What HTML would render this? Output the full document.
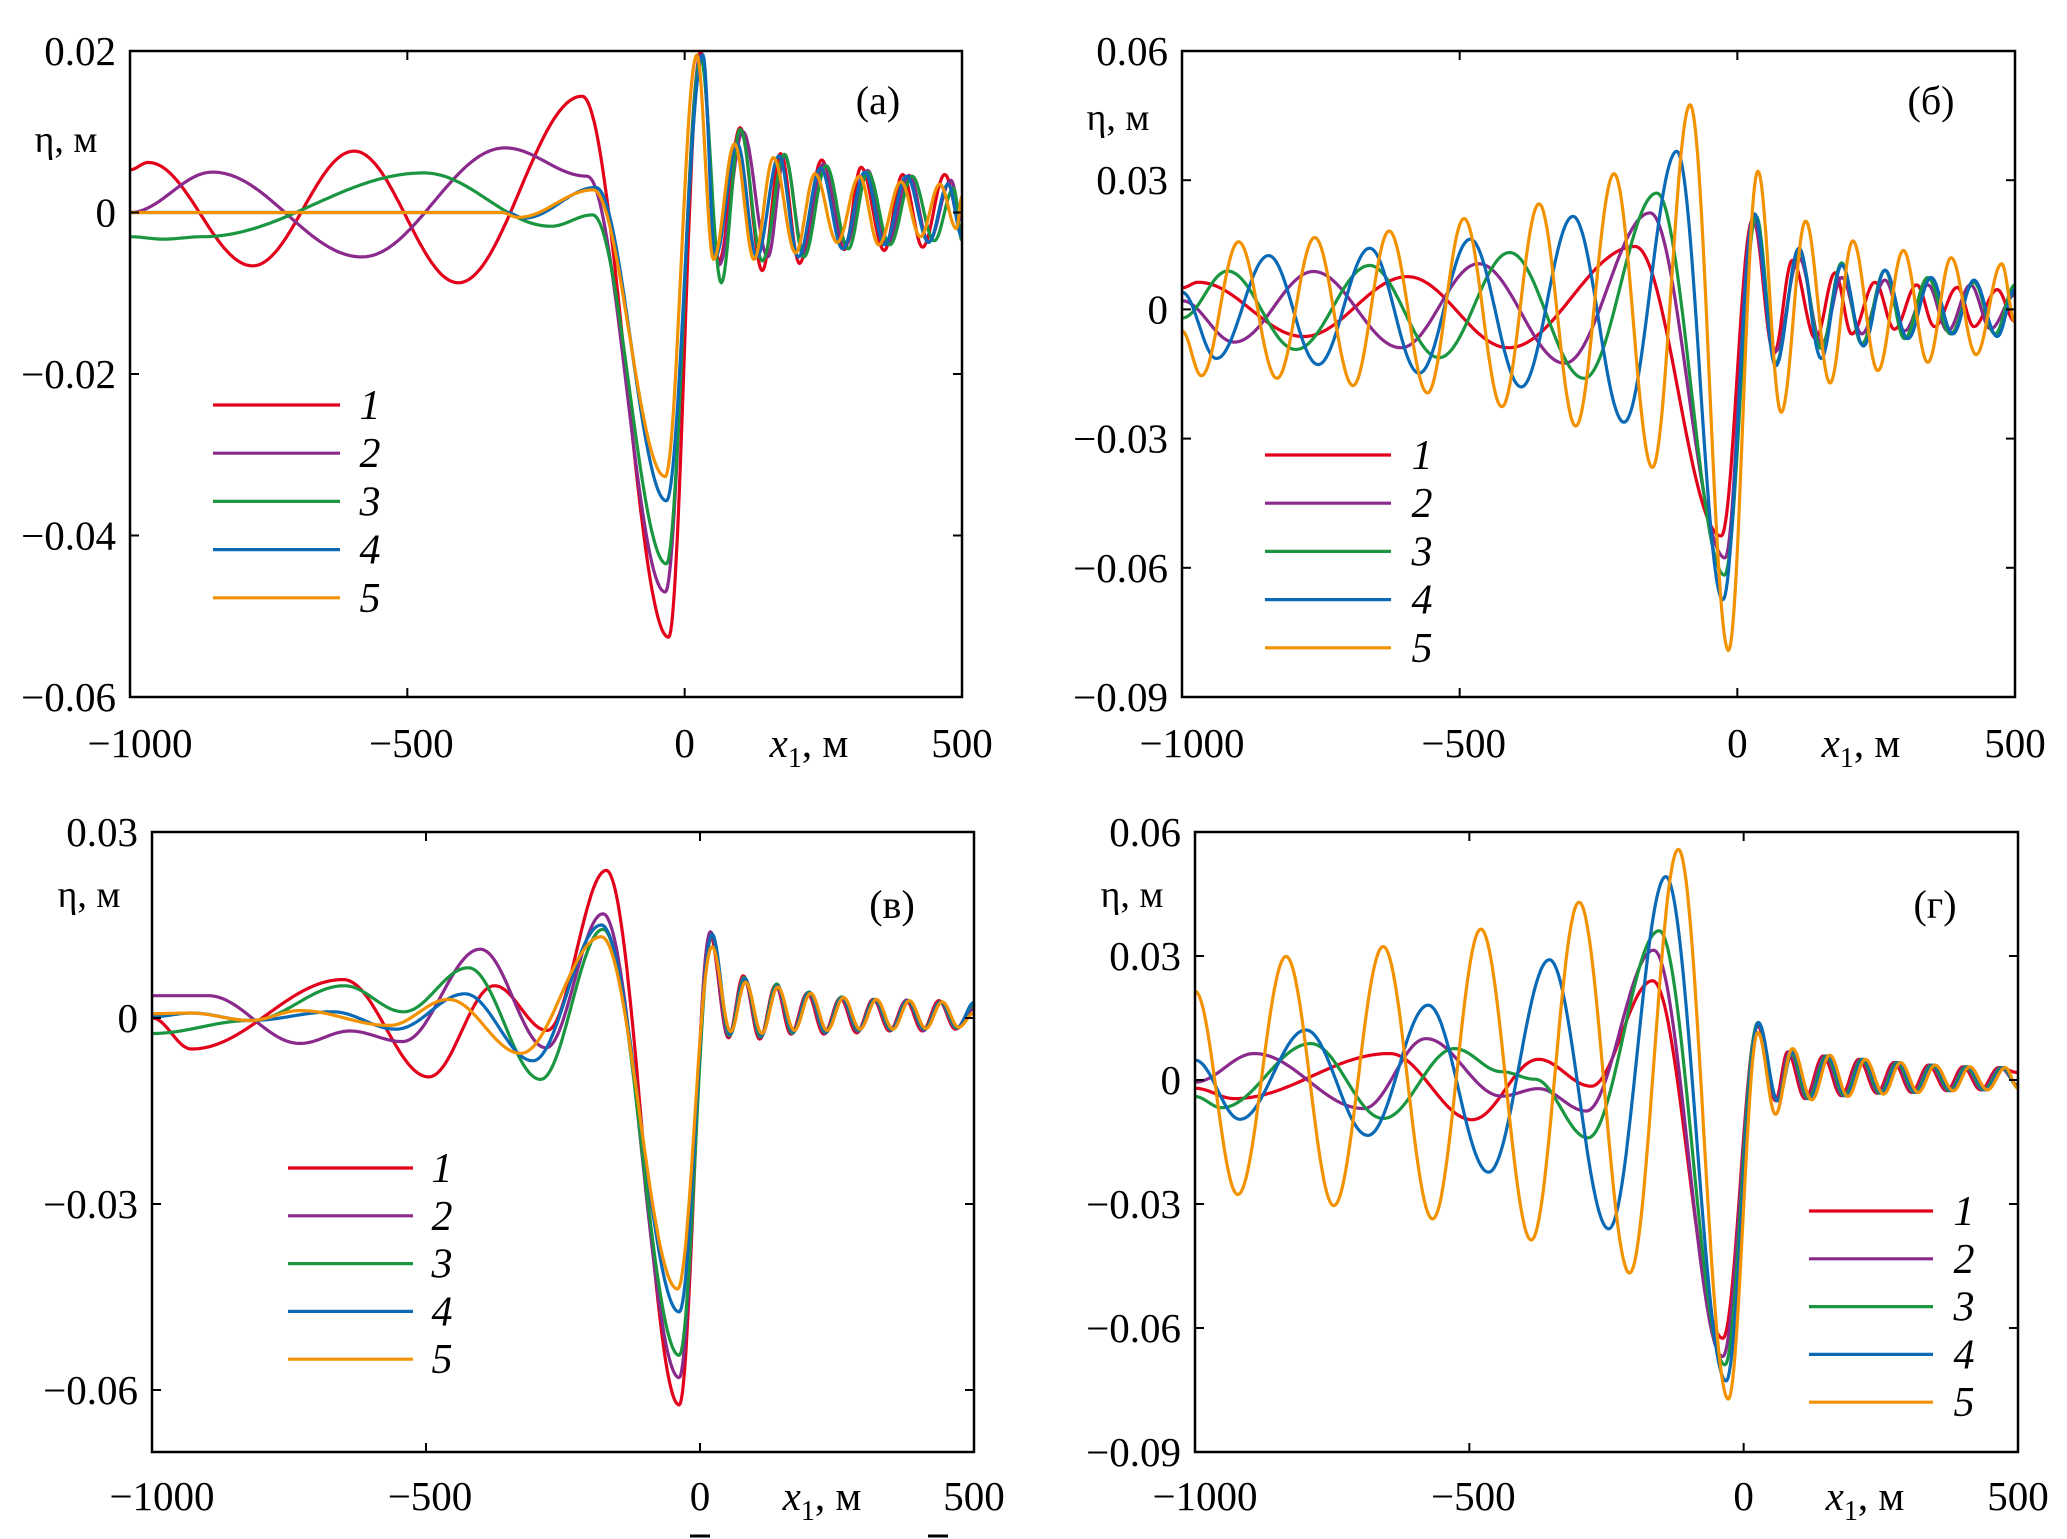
<!DOCTYPE html>
<html><head><meta charset="utf-8">
<style>
html,body{margin:0;padding:0;background:#fff;}
svg{display:block;}
text{font-family:"Liberation Serif","DejaVu Serif",serif;fill:#000;}
</style></head>
<body>
<svg id="fig" width="2067" height="1539" viewBox="0 0 2067 1539" xmlns="http://www.w3.org/2000/svg"></svg>
<script>
// ---- data (x in m, eta in m) ----
const seriesNames = ['1','2','3','4','5'];
const seriesColors = ['#e3001b','#8a2a8c','#1a9641','#0a6ab6','#f39200'];
const xTicks = [-1000,-500,0,500];
const xTickLabels = ['\u22121000','\u2212500','0','500'];

// panel a
const aYTicks = [0.02,0,-0.02,-0.04,-0.06];
const aYTickLabels = ['0.02','0','\u22120.02','\u22120.04','\u22120.06'];
const a1 = [[-1000,0.0053],[-967,0.0062],[-779,-0.0066],[-596,0.0076],[-408,-0.0087],[-185,0.0144],[-29,-0.0526],[29,0.0199],[62,-0.006],[100,0.0105],[140,-0.0072],[173,0.0073],[207,-0.0063],[247,0.0065],[288,-0.0046],[318,0.0056],[360,-0.0047],[393,0.0047],[429,-0.0043],[469,0.0047],[500,-0.002]];
const a2 = [[-1000,0],[-851,0.005],[-582,-0.0055],[-324,0.008],[-176,0.0045],[-35,-0.047],[29,0.0195],[62,-0.0065],[105,0.010],[150,-0.0055],[180,0.007],[215,-0.005],[250,0.006],[290,-0.004],[330,0.0052],[365,-0.004],[405,0.0046],[440,-0.0036],[480,0.004],[500,-0.001]];
const a3 = [[-1000,-0.003],[-940,-0.0033],[-870,-0.003],[-470,0.0049],[-241,-0.0017],[-166,-0.0003],[-33,-0.0435],[29,0.019],[66,-0.0087],[100,0.0103],[140,-0.006],[180,0.0072],[215,-0.0055],[255,0.0058],[295,-0.0045],[330,0.005],[370,-0.004],[410,0.0045],[450,-0.0035],[485,0.003],[500,-0.0035]];
const a4 = [[-1000,0],[-320,0],[-290,-0.0007],[-160,0.0031],[-33,-0.0357],[33,0.0195],[55,-0.0055],[95,0.0085],[130,-0.0055],[170,0.007],[205,-0.0055],[245,0.0055],[285,-0.0045],[325,0.005],[360,-0.004],[400,0.0045],[440,-0.0037],[475,0.0035],[500,-0.003]];
const a5 = [[-1000,0],[-330,0],[-300,-0.0006],[-165,0.0028],[-35,-0.0327],[22,0.0195],[52,-0.0058],[90,0.0085],[125,-0.0058],[160,0.0068],[200,-0.005],[235,0.0048],[275,-0.0037],[315,0.0045],[350,-0.004],[390,0.0038],[425,-0.003],[460,0.0035],[490,-0.002],[500,0.002]];

// panel б
const bYTicks = [0.06,0.03,0,-0.03,-0.06,-0.09];
const bYTickLabels = ['0.06','0.03','0','\u22120.03','\u22120.06','\u22120.09'];
const b1 = [[-1000,0.005],[-971,0.0063],[-781,-0.0063],[-594,0.0076],[-412,-0.0089],[-184,0.0146],[-29,-0.0526],[28,0.021],[66,-0.0102],[99,0.0114],[141,-0.0068],[176,0.0085],[206,-0.0057],[248,0.0063],[283,-0.0046],[323,0.0057],[355,-0.004],[396,0.0051],[426,-0.004],[468,0.0046],[500,-0.0028]];
const b2 = [[-1000,0.002],[-906,-0.0076],[-763,0.0088],[-606,-0.0089],[-466,0.0106],[-311,-0.0125],[-157,0.0224],[-22,-0.0577],[28,0.021],[69,-0.0097],[111,0.012],[152,-0.008],[188,0.0074],[224,-0.0057],[266,0.0068],[301,-0.005],[343,0.0057],[379,-0.005],[420,0.0057],[456,-0.0045],[500,0.0034]];
const b3 = [[-1000,-0.002],[-918,0.0089],[-795,-0.0093],[-662,0.0102],[-537,-0.0112],[-410,0.0132],[-276,-0.016],[-145,0.027],[-23,-0.0617],[34,0.0216],[69,-0.0125],[111,0.0137],[151,-0.0091],[188,0.0108],[224,-0.008],[266,0.0091],[301,-0.0068],[343,0.0074],[384,-0.0057],[426,0.0063],[464,-0.0057],[500,0.0057]];
const b4 = [[-1000,0.004],[-938,-0.0114],[-844,0.0125],[-755,-0.0128],[-662,0.0142],[-573,-0.0148],[-481,0.0163],[-389,-0.018],[-296,0.0216],[-204,-0.0262],[-109,0.0367],[-26,-0.0674],[31,0.0222],[69,-0.0131],[111,0.0142],[151,-0.0114],[188,0.0103],[227,-0.0085],[266,0.0091],[307,-0.0068],[349,0.0074],[388,-0.0057],[426,0.0068],[468,-0.0063],[500,0.0046]];
const b5 = [[-1000,-0.005],[-965,-0.0154],[-898,0.0157],[-829,-0.016],[-761,0.0167],[-692,-0.0177],[-627,0.0182],[-558,-0.0194],[-492,0.0211],[-424,-0.0226],[-357,0.0245],[-291,-0.0271],[-222,0.0315],[-153,-0.0367],[-85,0.0475],[-16,-0.0792],[37,0.0321],[79,-0.0239],[123,0.0205],[167,-0.0171],[208,0.0159],[253,-0.0142],[299,0.0137],[343,-0.0123],[385,0.012],[430,-0.0105],[476,0.0106],[500,-0.003]];

// panel в
const cYTicks = [0.03,0,-0.03,-0.06];
const cYTickLabels = ['0.03','0','\u22120.03','\u22120.06'];
const c1 = [[-1000,0],[-928,-0.005],[-651,0.0062],[-495,-0.0095],[-375,0.0052],[-279,-0.002],[-171,0.0238],[-38,-0.0624],[18,0.0135],[52,-0.0032],[79,0.0068],[109,-0.0034],[138,0.0053],[166,-0.0026],[196,0.004],[226,-0.0026],[256,0.0032],[286,-0.0024],[316,0.003],[346,-0.0021],[376,0.0028],[406,-0.0021],[436,0.0028],[466,-0.0018],[500,0.002]];
const c2 = [[-1000,0.0036],[-898,0.0036],[-730,-0.0041],[-639,-0.0021],[-543,-0.0038],[-401,0.0111],[-281,-0.0048],[-177,0.0168],[-38,-0.058],[19,0.0139],[52,-0.003],[80,0.0066],[110,-0.0032],[139,0.0052],[168,-0.0025],[197,0.0041],[228,-0.0025],[257,0.0033],[288,-0.0022],[317,0.003],[348,-0.002],[377,0.0029],[408,-0.002],[437,0.0026],[468,-0.0017],[500,0.0015]];
const c3 = [[-1000,-0.0025],[-820,-0.0004],[-649,0.0052],[-541,0.001],[-423,0.0081],[-291,-0.0099],[-177,0.0143],[-38,-0.0544],[22,0.0135],[54,-0.0028],[81,0.0065],[111,-0.003],[140,0.0055],[169,-0.0024],[199,0.0042],[229,-0.0023],[259,0.0034],[289,-0.002],[319,0.003],[349,-0.0019],[379,0.0028],[409,-0.0018],[439,0.0026],[469,-0.0016],[500,0.0022]];
const c4 = [[-1000,0.0002],[-928,0.0008],[-820,-0.0004],[-670,0.001],[-555,-0.0018],[-429,0.0039],[-305,-0.0069],[-180,0.015],[-38,-0.0474],[22,0.0135],[55,-0.0026],[82,0.0063],[112,-0.0028],[141,0.0052],[170,-0.0022],[200,0.0041],[230,-0.0022],[260,0.0033],[290,-0.0019],[320,0.003],[350,-0.0018],[380,0.0028],[410,-0.0018],[440,0.0026],[470,-0.0015],[500,0.0025]];
const c5 = [[-1000,0.0007],[-930,0.0008],[-820,-0.0004],[-730,0.0012],[-567,-0.0012],[-459,0.003],[-327,-0.0057],[-180,0.0131],[-41,-0.0437],[22,0.0115],[56,-0.0022],[83,0.0058],[113,-0.0025],[142,0.005],[172,-0.002],[202,0.004],[232,-0.002],[262,0.0033],[292,-0.0018],[322,0.003],[352,-0.0018],[382,0.0028],[412,-0.0017],[442,0.0026],[472,-0.0015],[500,0.0008]];

// panel г
const dYTicks = [0.06,0.03,0,-0.03,-0.06,-0.09];
const dYTickLabels = ['0.06','0.03','0','\u22120.03','\u22120.06','\u22120.09'];
const d1 = [[-1000,-0.002],[-928,-0.0045],[-645,0.0064],[-495,-0.0096],[-374,0.005],[-278,-0.0015],[-166,0.024],[-38,-0.0625],[26,0.0131],[58,-0.005],[80,0.0068],[112,-0.0045],[145,0.0058],[178,-0.0038],[210,0.005],[243,-0.0032],[274,0.0042],[306,-0.003],[337,0.0036],[370,-0.0026],[400,0.0032],[432,-0.0024],[465,0.003],[500,0.0018]];
const d2 = [[-1000,-0.0005],[-892,0.0064],[-693,-0.0069],[-579,0.010],[-441,-0.0039],[-374,-0.0021],[-287,-0.0075],[-164,0.0314],[-38,-0.0669],[26,0.0133],[60,-0.005],[83,0.0068],[115,-0.0045],[148,0.0058],[181,-0.0038],[213,0.005],[246,-0.0032],[277,0.0042],[309,-0.003],[340,0.0036],[373,-0.0026],[403,0.0032],[435,-0.0024],[468,0.003],[500,-0.0012]];
const d3 = [[-1000,-0.004],[-952,-0.0067],[-789,0.0088],[-657,-0.0093],[-527,0.0076],[-441,0.002],[-381,0.0002],[-284,-0.014],[-154,0.0361],[-34,-0.0689],[26,0.0139],[62,-0.005],[86,0.0068],[118,-0.0045],[151,0.0058],[184,-0.0038],[216,0.005],[249,-0.0032],[280,0.0042],[312,-0.003],[343,0.0036],[376,-0.0026],[406,0.0032],[438,-0.0024],[471,0.003],[500,-0.0015]];
const d4 = [[-1000,0.0048],[-918,-0.0095],[-798,0.0121],[-685,-0.0134],[-575,0.0181],[-465,-0.0223],[-354,0.0291],[-246,-0.036],[-142,0.0492],[-32,-0.0728],[27,0.0139],[62,-0.005],[89,0.0068],[121,-0.0045],[154,0.0058],[187,-0.0038],[219,0.005],[252,-0.0032],[283,0.0042],[315,-0.003],[346,0.0036],[379,-0.0026],[409,0.0032],[441,-0.0024],[474,0.003],[500,-0.0018]];
const d5 = [[-1000,0.0215],[-922,-0.0277],[-834,0.0299],[-747,-0.0304],[-657,0.0323],[-567,-0.0336],[-479,0.0365],[-387,-0.0387],[-300,0.043],[-208,-0.0467],[-119,0.0558],[-28,-0.0772],[26,0.0115],[58,-0.0083],[89,0.0076],[124,-0.0048],[157,0.006],[190,-0.004],[222,0.005],[255,-0.0034],[286,0.0042],[318,-0.003],[349,0.0036],[382,-0.0026],[412,0.0032],[444,-0.0024],[477,0.003],[500,-0.002]];

// ---- layout ----
const panels = [
 {id:'a', label:'(а)', box:[130,51,962,697], ymax:0.02, ymin:-0.06, yt:aYTicks, ytl:aYTickLabels, data:[a1,a2,a3,a4,a5],
  leg:[213,340,370,405,48.2], lab:[878,114], eta:[66,152], xl:[809,757], xtb:757},
 {id:'b', label:'(б)', box:[1182,51,2015,697], ymax:0.06, ymin:-0.09, yt:bYTicks, ytl:bYTickLabels, data:[b1,b2,b3,b4,b5],
  leg:[1265,1391,1422,455,48.2], lab:[1931,114], eta:[1118,130], xl:[1861,757], xtb:757},
 {id:'c', label:'(в)', box:[152,832,974,1452], ymax:0.03, ymin:-0.07, yt:cYTicks, ytl:cYTickLabels, data:[c1,c2,c3,c4,c5],
  leg:[288,413,442,1168,47.8], lab:[892,918], eta:[89,907], xl:[822,1510], xtb:1510},
 {id:'d', label:'(г)', box:[1195,832,2018,1452], ymax:0.06, ymin:-0.09, yt:dYTicks, ytl:dYTickLabels, data:[d1,d2,d3,d4,d5],
  leg:[1809,1933,1964,1211,47.8], lab:[1935,918], eta:[1132,907], xl:[1865,1510], xtb:1510}
];
const NS='http://www.w3.org/2000/svg';
const svg=document.getElementById('fig');
function mk(tag,attrs,parent){const e=document.createElementNS(NS,tag);for(const k in attrs)e.setAttribute(k,attrs[k]);(parent||svg).appendChild(e);return e;}

panels.forEach(p=>{
  const [L,T,R,B]=p.box;
  const g=mk('g',{});
  
  
  const sx=v=>L+(v+1000)/1500*(R-L);
  const sy=v=>T+(p.ymax-v)/(p.ymax-p.ymin)*(B-T);
  const clipId='clip-'+p.id;
  const cp=mk('clipPath',{id:clipId},g);
  mk('rect',{x:L,y:T-4,width:R-L,height:B-T+8},cp);
  // series
  p.data.forEach((pts,si)=>{
    let d='';
    for(let i=0;i<pts.length-1;i++){
      const [x0,y0]=pts[i],[x1,y1]=pts[i+1];
      const n=Math.max(4,Math.ceil((x1-x0)/2));
      for(let k=(i===0?0:1);k<=n;k++){
        const t=k/n; const w=(1-Math.cos(Math.PI*t))/2;
        const X=sx(x0+(x1-x0)*t), Y=sy(y0+(y1-y0)*w);
        d+=(d===''?'M':'L')+X.toFixed(1)+' '+Y.toFixed(1);
      }
    }
    const path=mk('path',{d:d,fill:'none',stroke:seriesColors[si],'stroke-width':3.2,'stroke-linejoin':'round','clip-path':'url(#'+clipId+')'},g);
    
    
  });
  // frame
  const fr=mk('rect',{x:L,y:T,width:R-L,height:B-T,fill:'none',stroke:'#000','stroke-width':2.5},g);
  
  
  // ticks
  xTicks.forEach((v,i)=>{
    const X=sx(v);
    mk('line',{x1:X,y1:B,x2:X,y2:B-9,stroke:'#000','stroke-width':2},g);
    mk('line',{x1:X,y1:T,x2:X,y2:T+9,stroke:'#000','stroke-width':2},g);
    const t=mk('text',{x:X+(i===0?10:(i===1?4:0)),y:p.xtb,'font-size':41,'text-anchor':'middle'},g);
    t.textContent=xTickLabels[i];
    
    
  });
  p.yt.forEach((v,i)=>{
    const Y=sy(v);
    mk('line',{x1:L,y1:Y,x2:L+9,y2:Y,stroke:'#000','stroke-width':2},g);
    mk('line',{x1:R,y1:Y,x2:R-9,y2:Y,stroke:'#000','stroke-width':2},g);
    const t=mk('text',{x:L-14,y:Y+14,'font-size':41,'text-anchor':'end'},g);
    t.textContent=p.ytl[i];
    
    
  });
  // axis titles
  const et=mk('text',{x:p.eta[0],y:p.eta[1],'font-size':38,'text-anchor':'middle'},g);
  et.textContent='\u03b7, \u043c';
  
  
  const xt=mk('text',{x:p.xl[0],y:p.xl[1],'font-size':41,'text-anchor':'middle'},g);
  xt.innerHTML='<tspan font-style="italic">x</tspan><tspan font-size="28" dy="10">1</tspan><tspan dy="-10">, \u043c</tspan>';
  
  
  const pl=mk('text',{x:p.lab[0],y:p.lab[1],'font-size':40,'text-anchor':'middle'},g);
  pl.textContent=p.label;
  
  
  // legend
  const [lx0,lx1,nx,ly0,dy]=p.leg;
  seriesNames.forEach((nm,si)=>{
    const Y=ly0+si*dy;
    const lg=mk('g',{},g);
    
    
    mk('line',{x1:lx0,y1:Y,x2:lx1,y2:Y,stroke:seriesColors[si],'stroke-width':3.2},lg);
    const t=mk('text',{x:nx,y:Y+14,'font-size':42,'font-style':'italic','text-anchor':'middle'},lg);
    t.textContent=nm;
  });
});
// small stray marks under panel в labels
[[700,1536],[938,1536]].forEach(([x,y])=>{
  const m=mk('line',{x1:x-10,y1:y,x2:x+10,y2:y,stroke:'#000','stroke-width':3});
  
  
});
</script>
</body></html>
